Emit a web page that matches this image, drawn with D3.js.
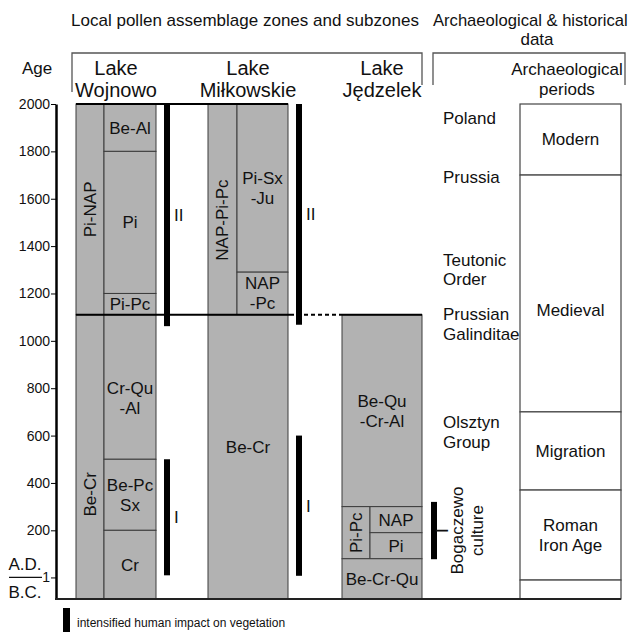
<!DOCTYPE html>
<html>
<head>
<meta charset="utf-8">
<script src="https://cdn.jsdelivr.net/npm/d3@7"></script>
<style>
body { margin: 0; background: #fff; }
text { font-family: "Liberation Sans", Arial, sans-serif; fill: #111; }
</style>
</head>
<body>
<div id="chart"></div>
<script>

// ---- data ----
var yearTicks = [2000, 1800, 1600, 1400, 1200, 1000, 800, 600, 400, 200, 1];

var lakeNames = ["Lake\nWojnowo", "Lake\nMiłkowskie", "Lake\nJędzelek"];
var lakeCols = [["W1", "W2"], ["M1", "M2"], ["J1", "J2"]];

// boundary shared by the lakes
var mainBoundary = 1110;

// zones: label, sub-columns, from/to years (A.D.), rotated label, optional label year
var wojnowoZones = [
    {label: "Pi-NAP", cols: ["W1"], from: 2000, to: 1110, rot: true},
    {label: "Be-Cr", cols: ["W1"], from: 1110, to: -90, rot: true, at: 352},
    {label: "Be-Al", cols: ["W2"], from: 2000, to: 1800},
    {label: "Pi", cols: ["W2"], from: 1800, to: 1200},
    {label: "Pi-Pc", cols: ["W2"], from: 1200, to: 1110},
    {label: "Cr-Qu\n-Al", cols: ["W2"], from: 1110, to: 500, at: 757},
    {label: "Be-Pc\nSx", cols: ["W2"], from: 500, to: 200},
    {label: "Cr", cols: ["W2"], from: 200, to: -90}
];
var milkowskieZones = [
    {label: "NAP-Pi-Pc", cols: ["M1"], from: 2000, to: 1110, rot: true, at: 1510},
    {label: "Pi-Sx\n-Ju", cols: ["M2"], from: 2000, to: 1290},
    {label: "NAP\n-Pc", cols: ["M2"], from: 1290, to: 1110},
    {label: "Be-Cr", cols: ["M1", "M2"], from: 1110, to: -90, at: 550}
];
var jedzelekZones = [
    {label: "Be-Qu\n-Cr-Al", cols: ["J1", "J2"], from: 1110, to: 300},
    {label: "Pi-Pc", cols: ["J1"], from: 300, to: 80, rot: true},
    {label: "NAP", cols: ["J2"], from: 300, to: 190},
    {label: "Pi", cols: ["J2"], from: 190, to: 80},
    {label: "Be-Cr-Qu", cols: ["J1", "J2"], from: 80, to: -90}
];

// intensified human impact phases
var impactLake = [0, 0, 1, 1, 2];
var impactPhase = ["II", "I", "II", "I", "I"];
var impactFrom = [2000, 500, 2000, 600, 320];
var impactTo = [1062, 10, 1068, 8, 78];

// historical groups
var histLabels = ["Poland", "Prussia", "Teutonic\nOrder", "Prussian\nGalinditae", "Olsztyn\nGroup"];
var histYears = [1940, 1690, 1300, 1070, 615];
var cultureLabel = "Bogaczewo\nculture";

// archaeological periods
var periodLabels = ["Modern", "Medieval", "Migration", "Roman\nIron Age", ""];
var periodFrom = [2000, 1700, 700, 370, -10];
var periodTo = [1700, 700, 370, -10, -90];
var periodLabelYear = [null, 1130, null, null, null];

// ---- chart ----
ZoneChart = function(_parentElement) {
    this.parentElement = _parentElement;
    this.initVis();
}

ZoneChart.prototype.initVis = function() {
    var vis = this;

    vis.width = 632;
    vis.height = 632;

    vis.svg = d3.select("#" + vis.parentElement).append("svg")
        .attr("width", vis.width)
        .attr("height", vis.height);

    vis.y = d3.scaleLinear()
        .domain([-90, 2000])
        .range([599, 104]);

    // sub-column edges
    var colKeys = ["W1", "W2", "M1", "M2", "J1", "J2"];
    vis.colLeft = d3.scaleOrdinal().domain(colKeys).range([76, 104, 208, 237, 342, 370]);
    vis.colRight = d3.scaleOrdinal().domain(colKeys).range([104, 156, 237, 288, 370, 422]);

    vis.axisX = 56;
    vis.periodX0 = 520;
    vis.periodX1 = 621;

    vis.drawHeader();
    vis.drawZones();
    vis.drawImpact();
    vis.drawArchaeology();
    vis.drawAxis();
    vis.drawLegend();
}

// multi-line text helper, lines centred on (x, y)
ZoneChart.prototype.multiText = function(g, str, x, y, size, anchor, lh) {
    var lines = str.split("\n");
    lh = lh || 20;
    var t = g.append("text")
        .attr("x", x)
        .attr("y", y)
        .attr("text-anchor", anchor || "middle")
        .style("font-size", size + "px");
    lines.forEach(function(l, i) {
        t.append("tspan")
            .attr("x", x)
            .attr("dy", i == 0 ? (0.35 * size - (lines.length - 1) * lh / 2) + "px" : lh + "px")
            .text(l);
    });
    return t;
}

ZoneChart.prototype.drawHeader = function() {
    var vis = this;
    var g = vis.svg.append("g");

    g.append("text").attr("x", 245).attr("y", 26)
        .attr("text-anchor", "middle").style("font-size", "17px")
        .text("Local pollen assemblage zones and subzones");
    g.append("text").attr("x", 433).attr("y", 26)
        .style("font-size", "16.6px")
        .text("Archaeological & historical");
    g.append("text").attr("x", 537).attr("y", 45)
        .attr("text-anchor", "middle").style("font-size", "17px")
        .text("data");
    g.append("text").attr("x", 37).attr("y", 74)
        .attr("text-anchor", "middle").style("font-size", "17px")
        .text("Age");

    // brackets
    g.append("path")
        .attr("d", "M72,92V53H422V85")
        .attr("fill", "none").attr("stroke", "#555").attr("stroke-width", 1.3);
    g.append("path")
        .attr("d", "M433,85V53H625V85")
        .attr("fill", "none").attr("stroke", "#555").attr("stroke-width", 1.3);

    lakeNames.forEach(function(name, i) {
        var cx = (vis.colLeft(lakeCols[i][0]) + vis.colRight(lakeCols[i][1])) / 2;
        var lines = name.split("\n");
        g.append("text").attr("x", cx).attr("y", 75)
            .attr("text-anchor", "middle").style("font-size", "20px").text(lines[0]);
        g.append("text").attr("x", cx).attr("y", 97)
            .attr("text-anchor", "middle").style("font-size", "20px").text(lines[1]);
    });

    g.append("text").attr("x", 567).attr("y", 75)
        .attr("text-anchor", "middle").style("font-size", "17px").text("Archaeological");
    g.append("text").attr("x", 567).attr("y", 95)
        .attr("text-anchor", "middle").style("font-size", "17px").text("periods");
}

ZoneChart.prototype.drawZones = function() {
    var vis = this;
    var zones = wojnowoZones.concat(milkowskieZones, jedzelekZones);

    var g = vis.svg.append("g");

    g.selectAll("rect.zone")
        .data(zones)
        .enter()
        .append("rect")
        .attr("class", "zone")
        .attr("x", function(d) { return vis.colLeft(d.cols[0]); })
        .attr("y", function(d) { return vis.y(d.from); })
        .attr("width", function(d) { return vis.colRight(d.cols[d.cols.length - 1]) - vis.colLeft(d.cols[0]); })
        .attr("height", function(d) { return vis.y(d.to) - vis.y(d.from); })
        .attr("fill", "#b2b2b2")
        .attr("stroke", "#3c3c3c")
        .attr("stroke-width", 1);

    zones.forEach(function(d) {
        var cx = (vis.colLeft(d.cols[0]) + vis.colRight(d.cols[d.cols.length - 1])) / 2;
        var cy = d.at != null ? vis.y(d.at) : (vis.y(d.from) + vis.y(d.to)) / 2;
        if (d.rot) {
            var lg = g.append("g").attr("transform", "translate(" + cx + "," + cy + ") rotate(-90)");
            vis.multiText(lg, d.label, 0, 0, 17);
        } else {
            vis.multiText(g, d.label, cx, cy, 17);
        }
    });

    // heavy lines at 2000 and at the main boundary
    g.append("line")
        .attr("x1", vis.colLeft("W1")).attr("x2", vis.colRight("M2"))
        .attr("y1", vis.y(2000)).attr("y2", vis.y(2000))
        .attr("stroke", "#000").attr("stroke-width", 2);
    g.append("line")
        .attr("x1", vis.colLeft("W1")).attr("x2", vis.colRight("M2") + 2)
        .attr("y1", vis.y(mainBoundary)).attr("y2", vis.y(mainBoundary))
        .attr("stroke", "#000").attr("stroke-width", 2);
    g.append("line")
        .attr("x1", vis.colRight("M2") + 2).attr("x2", vis.colLeft("J1"))
        .attr("y1", vis.y(mainBoundary)).attr("y2", vis.y(mainBoundary))
        .attr("stroke", "#000").attr("stroke-width", 2)
        .attr("stroke-dasharray", "4,3");
    g.append("line")
        .attr("x1", vis.colLeft("J1")).attr("x2", vis.colRight("J2"))
        .attr("y1", vis.y(mainBoundary)).attr("y2", vis.y(mainBoundary))
        .attr("stroke", "#000").attr("stroke-width", 2);
}

ZoneChart.prototype.drawImpact = function() {
    var vis = this;
    var g = vis.svg.append("g");
    var barX = function(i) { return vis.colRight(lakeCols[impactLake[i]][1]) + 8; };

    g.selectAll("rect.impact")
        .data(impactPhase)
        .enter()
        .append("rect")
        .attr("class", "impact")
        .attr("x", function(d, i) { return barX(i) + (impactLake[i] == 2 ? 1 : 0); })
        .attr("y", function(d, i) { return vis.y(impactFrom[i]); })
        .attr("width", 6)
        .attr("height", function(d, i) { return vis.y(impactTo[i]) - vis.y(impactFrom[i]); })
        .attr("fill", "#000");

    impactPhase.forEach(function(p, i) {
        var cy = vis.y((impactFrom[i] + impactTo[i]) / 2);
        if (impactLake[i] == 2) {
            // Jędzelek: label and culture name turned on their side
            var lg = g.append("g").attr("transform", "translate(" + (barX(i) + 12) + "," + cy + ") rotate(-90)");
            lg.append("text").attr("x", 0).attr("y", 0).attr("dy", "0.35em")
                .attr("text-anchor", "middle").style("font-size", "17px").text(p);
            var cg = g.append("g").attr("transform", "translate(" + (barX(i) + 37) + "," + cy + ") rotate(-90)");
            vis.multiText(cg, cultureLabel, 0, 0, 17);
        } else {
            g.append("text")
                .attr("x", barX(i) + 10)
                .attr("y", cy)
                .attr("dy", "0.35em")
                .style("font-size", "17px")
                .text(p);
        }
    });
}

ZoneChart.prototype.drawArchaeology = function() {
    var vis = this;
    var g = vis.svg.append("g");

    histLabels.forEach(function(l, i) {
        vis.multiText(g, l, 443, vis.y(histYears[i]), 17, "start", 19.5);
    });

    g.selectAll("rect.period")
        .data(periodLabels)
        .enter()
        .append("rect")
        .attr("class", "period")
        .attr("x", vis.periodX0)
        .attr("y", function(d, i) { return vis.y(periodFrom[i]); })
        .attr("width", vis.periodX1 - vis.periodX0)
        .attr("height", function(d, i) { return vis.y(periodTo[i]) - vis.y(periodFrom[i]); })
        .attr("fill", "#fff")
        .attr("stroke", "#444")
        .attr("stroke-width", 1.2);

    periodLabels.forEach(function(l, i) {
        if (!l) return;
        var cy = periodLabelYear[i] != null ? vis.y(periodLabelYear[i]) : (vis.y(periodFrom[i]) + vis.y(periodTo[i])) / 2;
        vis.multiText(g, l, (vis.periodX0 + vis.periodX1) / 2, cy, 17);
    });
}

ZoneChart.prototype.drawAxis = function() {
    var vis = this;

    vis.yAxis = d3.axisLeft(vis.y)
        .tickValues(yearTicks)
        .tickSize(5)
        .tickSizeOuter(0)
        .tickPadding(1)
        .tickFormat(d3.format("d"));

    var ax = vis.svg.append("g")
        .attr("transform", "translate(" + vis.axisX + ",0)")
        .call(vis.yAxis);
    ax.attr("font-family", null).attr("font-size", null);
    ax.select(".domain").attr("stroke-width", 2.5);
    ax.selectAll(".tick line").attr("stroke-width", 1);
    ax.selectAll(".tick text").style("font-size", "14px").attr("fill", "#111");

    // bottom line
    vis.svg.append("line")
        .attr("x1", vis.axisX - 1).attr("x2", vis.periodX1)
        .attr("y1", vis.y(-90)).attr("y2", vis.y(-90))
        .attr("stroke", "#222").attr("stroke-width", 2);

    // A.D. / B.C.
    vis.svg.append("text").attr("x", 25).attr("y", 570)
        .attr("text-anchor", "middle").style("font-size", "17px").text("A.D.");
    vis.svg.append("line").attr("x1", 9).attr("x2", 42)
        .attr("y1", vis.y(1)).attr("y2", vis.y(1))
        .attr("stroke", "#111").attr("stroke-width", 1.3);
    vis.svg.append("text").attr("x", 25).attr("y", 598)
        .attr("text-anchor", "middle").style("font-size", "17px").text("B.C.");
}

ZoneChart.prototype.drawLegend = function() {
    var vis = this;
    vis.svg.append("rect")
        .attr("x", 63).attr("y", 608)
        .attr("width", 7).attr("height", 26)
        .attr("fill", "#000");
    vis.svg.append("text")
        .attr("x", 77).attr("y", 627)
        .style("font-size", "12px")
        .text("intensified human impact on vegetation");
}

var chart = new ZoneChart("chart");
</script>
</body>
</html>
